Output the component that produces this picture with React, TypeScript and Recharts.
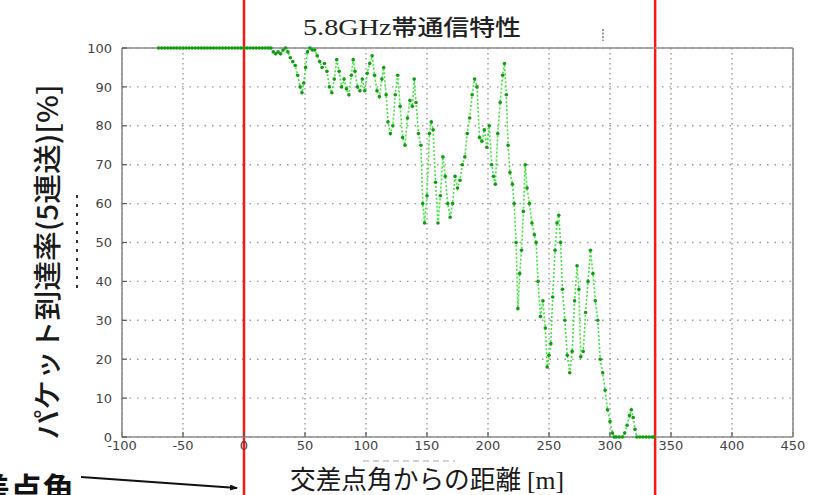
import React from "react";
import {
  LineChart,
  Line,
  XAxis,
  YAxis,
  CartesianGrid,
  ReferenceLine,
} from "recharts";

// Distance from the intersection corner [m]
const distance = [
  -70, -67.5, -65, -62.5, -60, -57.5, -55, -52.5, -50, -47.5,
  -45, -42.5, -40, -37.5, -35, -32.5, -30, -27.5, -25, -22.5,
  -20, -17.5, -15, -12.5, -10, -7.5, -5, -2.5, 0, 2.5,
  5, 7.5, 10, 12.5, 15, 17.5, 20,
  22, 24, 26, 28, 30, 32, 34, 36, 38, 40,
  42, 44, 46, 47.5, 49, 50.5, 52, 54,
  56, 58, 60, 62, 64, 66, 68, 70, 72, 74,
  76, 78, 80, 82, 84, 86, 88, 89.5, 91, 93,
  95, 97, 99, 101, 103, 105, 107, 109, 111, 113,
  114.5, 116.5, 118, 120, 122, 124, 126, 128, 130, 132,
  134, 136, 138, 139.5, 141, 143, 145, 146.5, 148, 150,
  152, 153.5, 155, 157, 159, 161, 163, 165, 167, 169,
  171, 173, 175, 177, 179, 181, 183, 185, 187, 189,
  191, 193, 195, 197, 199, 201, 203, 204.5, 206, 208,
  210, 212, 213.5, 215, 216.5, 218, 220, 221.5, 223, 224.5,
  226, 227.5, 229, 230.5, 232, 234, 236, 238, 239.5, 241,
  243, 245, 247, 248.5, 250, 251.5, 253, 255, 256.5, 258,
  259.5, 261, 263, 265, 267, 269, 271, 273, 274.5, 276,
  278, 280, 282, 284, 286, 288, 290, 292, 294, 296,
  298, 300, 302, 303.5, 305, 307.5, 310, 312, 314, 316,
  317.5, 319, 320.5, 322, 324.5, 327, 329.5, 332, 334.5, 336,
];

// Packet arrival rate (5 consecutive sends) [%]
const rate = [
  100, 100, 100, 100, 100, 100, 100, 100, 100, 100,
  100, 100, 100, 100, 100, 100, 100, 100, 100, 100,
  100, 100, 100, 100, 100, 100, 100, 100, 100, 100,
  100, 100, 100, 100, 100, 100, 100,
  100, 99, 98.5, 99, 98.5, 99.5, 100, 99, 97.5, 96.5,
  95.5, 93, 90, 88.5, 91, 95, 99, 100,
  99.5, 99.5, 98, 96.5, 95, 96, 94, 90, 88.5, 92,
  97, 94, 90, 92, 89.5, 88, 93, 97, 94, 90,
  89, 92, 89, 93.5, 96, 98, 93, 89, 87.5, 92,
  95, 88, 81, 78, 80, 88, 93, 85, 77, 75,
  82, 86.5, 85, 92, 86, 78, 75, 60, 55, 62,
  78, 81, 79, 65.5, 55, 62, 72, 67, 60, 56.5,
  60, 67, 64, 66, 70, 72, 78, 82, 88, 92,
  90, 77, 76, 79, 74.5, 80, 70, 67, 65, 78,
  86, 93, 96, 88, 75, 68, 65, 60, 50, 33,
  42, 48, 58, 70, 64, 60, 55, 52, 50, 40,
  31, 35, 28, 18, 21, 24, 36, 48, 55, 57,
  50, 38, 30, 21, 16.5, 22, 35, 44, 38, 20.6,
  22, 32, 40, 48, 42, 35, 30, 20, 16.5, 12,
  7, 4, 1, 0, 0, 0, 0, 1, 3, 5.5,
  7, 5, 2, 0, 0, 0, 0, 0, 0, 0,
];

const xTicks = [-100, -50, 0, 50, 100, 150, 200, 250, 300, 350, 400, 450];
const yTicks = [0, 10, 20, 30, 40, 50, 60, 70, 80, 90, 100];
const markerLines = [0, 337];

const titleNum = "5.8GHz";
const titleJa = "帯通信特性";
const yLabel = "パケット到達率(5連送)[%]";
const xLabelJa = "交差点角からの距離 ";
const xLabelUnit = "[m]";
const cornerLabel = "差点角";

const data = distance.map((d, i) => ({ distance: d, rate: rate[i] }));

const W = 822;
const H = 495;

const RedLine = (p: any) => (
  <line x1={p.x1} x2={p.x2} y1={0} y2={H} stroke="#ff1414" strokeWidth={2.5} />
);

const axisStroke = { stroke: "#8c8c8c", strokeWidth: 1.6 };
const tickLineStyle = { stroke: "#555", strokeWidth: 1.2 };
const tickText = { fill: "#444", fontSize: 13, fontFamily: "DejaVu Sans" };

export default function App() {
  return (
    <div style={{ position: "absolute", left: 0, top: 0, width: W, height: H, background: "#fff" }}>
      <LineChart
        width={W}
        height={H}
        data={data}
        margin={{ top: 0, right: 0, bottom: 0, left: 0 }}
      >
        <CartesianGrid
          xAxisId="b"
          yAxisId="l"
          vertical={false}
          stroke="#9a9a9a"
          strokeWidth={1.4}
          strokeDasharray="1.5 6"
        />
        <CartesianGrid
          xAxisId="b"
          yAxisId="l"
          horizontal={false}
          stroke="#9a9a9a"
          strokeWidth={1.4}
          strokeDasharray="1.5 3.5"
        />
        <XAxis
          xAxisId="b"
          dataKey="distance"
          type="number"
          domain={[-100, 450]}
          ticks={xTicks}
          interval={0}
          orientation="bottom"
          height={58}
          tickSize={-5}
          tickMargin={9}
          axisLine={axisStroke}
          tickLine={tickLineStyle}
          tick={tickText}
        />
        <XAxis
          xAxisId="t"
          dataKey="distance"
          type="number"
          domain={[-100, 450]}
          ticks={xTicks}
          interval={0}
          orientation="top"
          height={48}
          tickSize={-5}
          axisLine={axisStroke}
          tickLine={tickLineStyle}
          tick={false}
        />
        <YAxis
          yAxisId="l"
          type="number"
          domain={[0, 100]}
          ticks={yTicks}
          interval={0}
          orientation="left"
          width={122}
          tickSize={-5}
          tickMargin={15}
          axisLine={axisStroke}
          tickLine={tickLineStyle}
          tick={tickText}
        />
        <YAxis
          yAxisId="r"
          type="number"
          domain={[0, 100]}
          ticks={yTicks}
          interval={0}
          orientation="right"
          width={29}
          tickSize={-5}
          axisLine={axisStroke}
          tickLine={tickLineStyle}
          tick={false}
        />
        <Line
          xAxisId="b"
          yAxisId="l"
          type="linear"
          dataKey="rate"
          stroke="#3fe83f"
          strokeWidth={1.6}
          strokeDasharray="2 2"
          dot={{ r: 1.8, fill: "#129c12", stroke: "none" }}
          isAnimationActive={false}
        />
        {markerLines.map((m) => (
          <ReferenceLine
            key={m}
            xAxisId="b"
            yAxisId="l"
            x={m}
            ifOverflow="visible"
            shape={RedLine}
          />
        ))}
      </LineChart>
      <svg
        width={W}
        height={H}
        style={{ position: "absolute", left: 0, top: 0, pointerEvents: "none" }}
      >
        <defs>
          <marker id="ah" markerWidth="8" markerHeight="6" refX="7" refY="3" orient="auto" markerUnits="userSpaceOnUse">
            <path d="M0,0 L8,3 L0,6 Z" fill="#111" />
          </marker>
        </defs>
        <text x={303} y={35} textLength={218} lengthAdjust="spacingAndGlyphs" fill="#222">
          <tspan fontFamily="Liberation Serif" fontSize={24}>{titleNum}</tspan>
          <tspan fontFamily="Noto Sans CJK JP" fontSize={22} fontWeight={500}>{titleJa}</tspan>
        </text>
        <line x1={603} x2={603} y1={29} y2={41} stroke="#555" strokeWidth={1.2} strokeDasharray="2 1.5" />
        <text
          x={46}
          y={262}
          transform="rotate(-90 46 262)"
          textAnchor="middle"
          dominantBaseline="central"
          fontFamily="Noto Sans CJK JP"
          fontSize={28}
          fontWeight={500}
          fill="#1a1a1a"
          textLength={355}
          lengthAdjust="spacingAndGlyphs"
        >
          {yLabel}
        </text>
        <line x1={77} x2={77} y1={195} y2={292} stroke="#333" strokeWidth={2} strokeDasharray="3 6" />
        <line x1={363} x2={455} y1={461} y2={461} stroke="#c4c4c4" strokeWidth={1.5} strokeDasharray="6 4" />
        <text x={290} y={489} textLength={274} lengthAdjust="spacingAndGlyphs" fill="#1a1a1a">
          <tspan fontFamily="Noto Sans CJK JP" fontSize={26}>{xLabelJa}</tspan>
          <tspan fontFamily="Liberation Serif" fontSize={26}>{xLabelUnit}</tspan>
        </text>
        <text
          x={74}
          y={501}
          textAnchor="end"
          fontFamily="Noto Sans CJK JP"
          fontSize={32}
          fontWeight={700}
          fill="#111"
        >
          {cornerLabel}
        </text>
        <line x1={81} y1={477} x2={237} y2={488} stroke="#111" strokeWidth={2} markerEnd="url(#ah)" />
      </svg>
    </div>
  );
}
